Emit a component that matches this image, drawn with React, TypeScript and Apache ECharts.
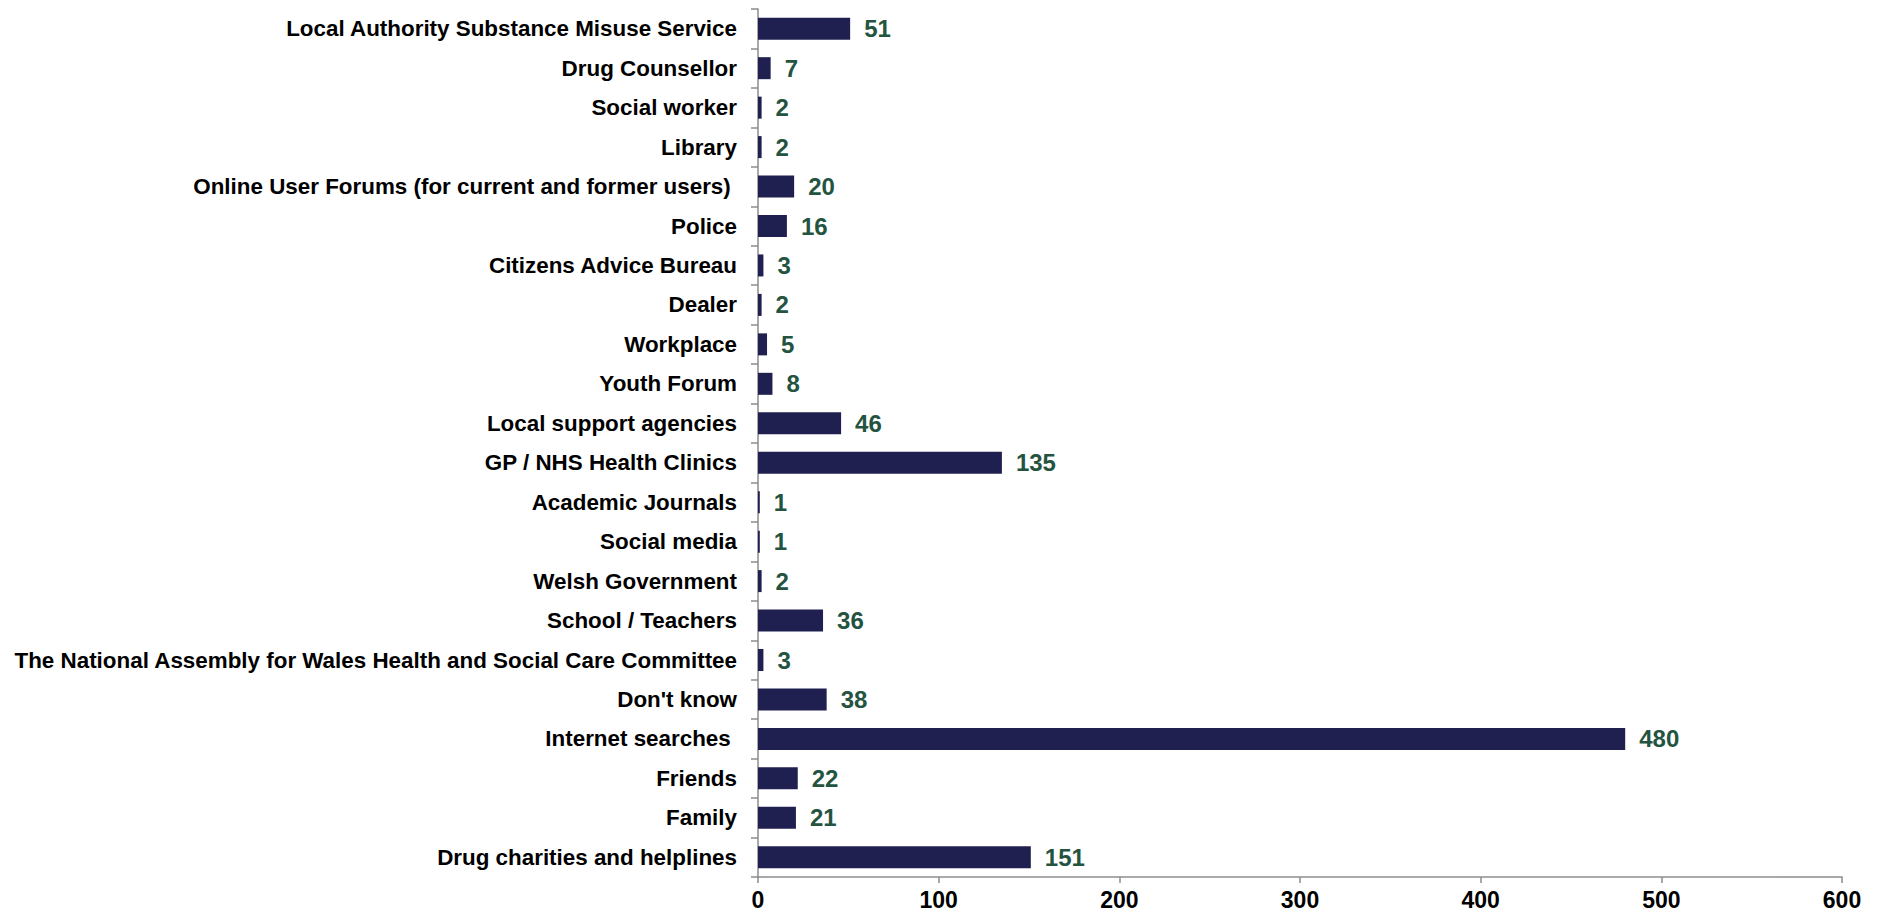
import React, { useEffect, useRef } from "react";
import * as echarts from "echarts";

const categories = [
  "Local Authority Substance Misuse Service",
  "Drug Counsellor",
  "Social worker",
  "Library",
  "Online User Forums (for current and former users) ",
  "Police",
  "Citizens Advice Bureau",
  "Dealer",
  "Workplace",
  "Youth Forum",
  "Local support agencies",
  "GP / NHS Health Clinics",
  "Academic Journals",
  "Social media",
  "Welsh Government",
  "School / Teachers",
  "The National Assembly for Wales Health and Social Care Committee",
  "Don't know",
  "Internet searches ",
  "Friends",
  "Family",
  "Drug charities and helplines",
];

const values = [51, 7, 2, 2, 20, 16, 3, 2, 5, 8, 46, 135, 1, 1, 2, 36, 3, 38, 480, 22, 21, 151];

const xTicks = { min: 0, max: 600, interval: 100 };

export default function App() {
  const ref = useRef<HTMLDivElement>(null);
  useEffect(() => {
    if (!ref.current) return;
    const chart = echarts.init(ref.current, undefined, { renderer: "svg" });
    chart.setOption({
      animation: false,
      backgroundColor: "#ffffff",
      grid: { left: 758, right: 41, top: 9, bottom: 37, containLabel: false },
      xAxis: {
        type: "value",
        min: xTicks.min,
        max: xTicks.max,
        interval: xTicks.interval,
        axisLine: { show: true, lineStyle: { color: "#8c8c8c", width: 1.5 } },
        axisTick: { show: true, length: 6, lineStyle: { color: "#8c8c8c", width: 1.5 } },
        splitLine: { show: false },
        axisLabel: {
          margin: 11,
          color: "#000000",
          fontFamily: "Liberation Sans, Arial, sans-serif",
          fontWeight: "bold",
          fontSize: 23,
        },
      },
      yAxis: {
        type: "category",
        data: categories,
        inverse: true,
        axisLine: { show: true, lineStyle: { color: "#8c8c8c", width: 1.5 } },
        axisTick: { show: true, length: 7, lineStyle: { color: "#8c8c8c", width: 1.5 } },
        axisLabel: {
          margin: 21,
          color: "#000000",
          fontFamily: "Liberation Sans, Arial, sans-serif",
          fontWeight: "bold",
          fontSize: 22.4,
        },
      },
      series: [
        {
          type: "bar",
          data: values,
          barWidth: 22,
          itemStyle: { color: "#1f2050" },
          label: {
            show: true,
            position: "right",
            distance: 14,
            color: "#24543f",
            fontFamily: "Liberation Sans, Arial, sans-serif",
            fontWeight: "bold",
            fontSize: 24,
          },
        },
      ],
    });
    return () => chart.dispose();
  }, []);
  return (
    <div
      ref={ref}
      style={{ position: "fixed", left: 0, top: 0, width: 1883, height: 914, background: "#fff" }}
    />
  );
}
